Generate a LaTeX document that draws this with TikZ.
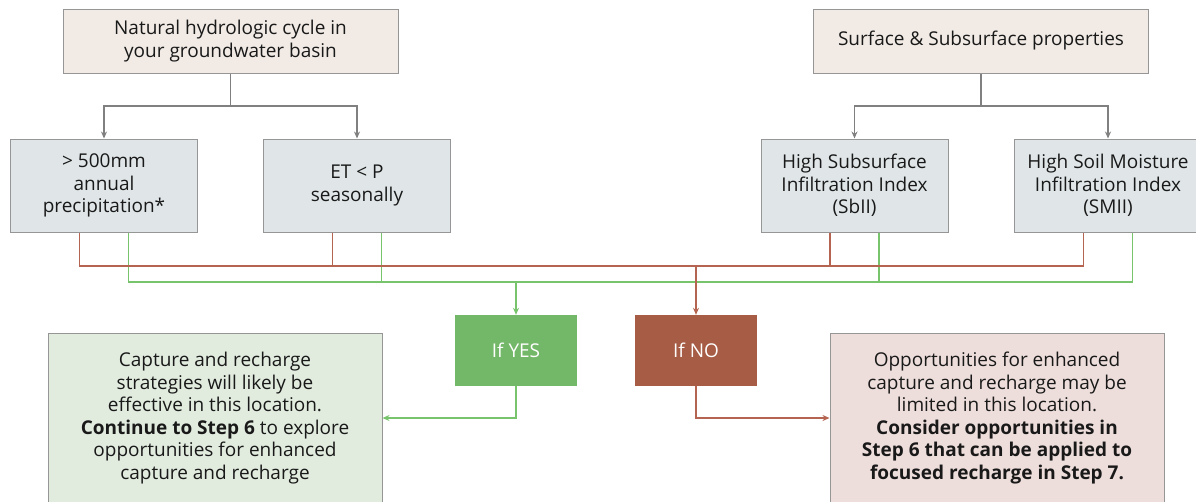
\documentclass[tikz,border=0pt]{standalone}
\usepackage{fontspec}
\setmainfont{Open Sans}
\usetikzlibrary{arrows.meta}
\definecolor{edgegray}{RGB}{150,150,150}
\definecolor{linegray}{RGB}{128,128,128}
\definecolor{topfill}{RGB}{242,235,229}
\definecolor{midfill}{RGB}{224,230,232}
\definecolor{yesgreen}{RGB}{115,183,104}
\definecolor{nobrown}{RGB}{166,92,69}
\definecolor{yesline}{RGB}{120,196,108}
\definecolor{noline}{RGB}{180,100,80}
\definecolor{goodfill}{RGB}{225,236,223}
\definecolor{badfill}{RGB}{237,222,219}
\definecolor{txt}{RGB}{25,25,25}
\begin{document}
\begin{tikzpicture}[x=1pt,y=-1pt,
  >={Stealth[length=7pt,width=6pt]},
  box/.style={shape=rectangle, draw=edgegray, line width=1pt, align=center, text=txt,
    font=\fontsize{19}{22.5}\selectfont, inner sep=0pt},
  topbox/.style={box, fill=topfill, minimum width=335pt, minimum height=64pt},
  midbox/.style={box, fill=midfill, minimum width=187pt, minimum height=93pt},
  endbox/.style={box, minimum width=334pt, minimum height=170pt},
  choice/.style={shape=rectangle, align=center, text=white, minimum width=122pt, minimum height=71pt,
    font=\fontsize{19}{22.5}\selectfont},
  gline/.style={line width=1.3pt, linegray},
  yline/.style={line width=1.3pt, yesline},
  nline/.style={line width=1.3pt, noline}]

\useasboundingbox (0,0) rectangle (1196,501);

\node[topbox] (n1) at (230.5,41) {Natural hydrologic cycle in\\your groundwater basin};
\node[topbox] (n2) at (981,41) {Surface \& Subsurface properties};
\node[midbox] (n3) at (104,185.5) {> 500mm\\annual\\precipitation*};
\node[midbox] (n4) at (357,185.5) {ET < P\\seasonally};
\node[midbox] (n5) at (854.5,185.5) {High Subsurface\\Infiltration Index\\(SbII)};
\node[midbox] (n6) at (1108,185.5) {High Soil Moisture\\Infiltration Index\\(SMII)};
\node[choice, fill=yesgreen] (n7) at (516,350.5) {If YES};
\node[choice, fill=nobrown] (n8) at (696,350.5) {If NO};
\node[endbox, fill=goodfill] (n9) at (215,418) {Capture and recharge\\strategies will likely be\\effective in this location.\\\textbf{Continue to Step 6} to explore\\opportunities for enhanced\\capture and recharge};
\node[endbox, fill=badfill] (n10) at (997,418) {Opportunities for enhanced\\capture and recharge may be\\limited in this location.\\\textbf{Consider opportunities in}\\\textbf{Step 6 that can be applied to}\\\textbf{focused recharge in Step 7.}};

\coordinate (c1) at (230.5,106);
\coordinate (c2) at (981,106);
\coordinate (ybus) at (516,282);
\coordinate (nbus) at (696,266);

% grey branches
\draw[gline] (n1) -- (c1);
\draw[gline,->] (c1) -| (n3);
\draw[gline,->] (c1) -| (n4);
\draw[gline] (n2) -- (c2);
\draw[gline,->] (c2) -| (n5);
\draw[gline,->] (c2) -| (n6);

% yes bus
\draw[yline] ([xshift=24.5pt]n3.south) |- (ybus) -| ([xshift=24.5pt]n6.south);
\draw[yline] ([xshift=24.5pt]n4.south) -- ([xshift=24.5pt]n4.south |- ybus);
\draw[yline] ([xshift=24.5pt]n5.south) -- ([xshift=24.5pt]n5.south |- ybus);
\draw[yline,->] (ybus) -- (n7);
\draw[yline,->] (n7.south) |- (n9.east);

% no bus
\draw[nline] ([xshift=-24.5pt]n3.south) |- (nbus) -| ([xshift=-24.5pt]n6.south);
\draw[nline] ([xshift=-24.5pt]n4.south) -- ([xshift=-24.5pt]n4.south |- nbus);
\draw[nline] ([xshift=-24.5pt]n5.south) -- ([xshift=-24.5pt]n5.south |- nbus);
\draw[nline,->] (nbus) -- (n8);
\draw[nline,->] (n8.south) |- (n10.west);
\end{tikzpicture}
\end{document}
